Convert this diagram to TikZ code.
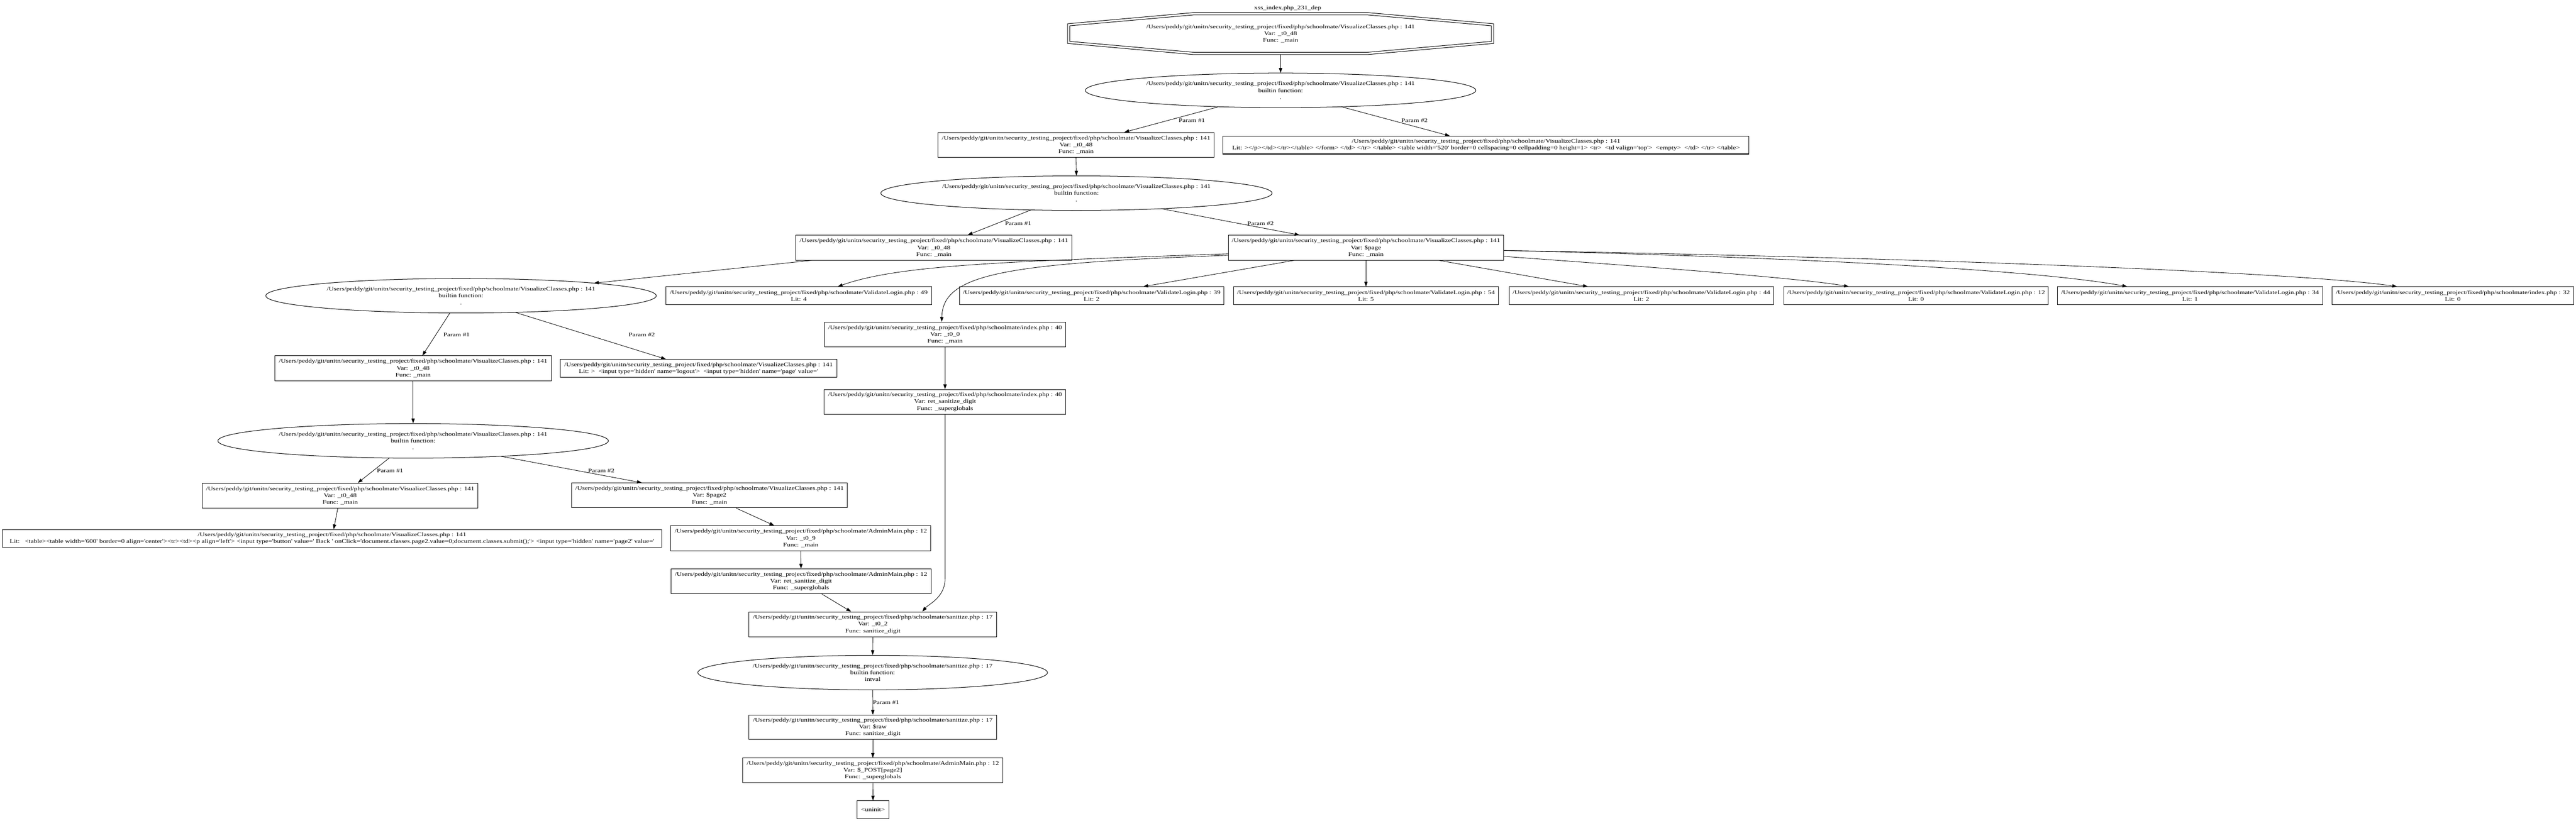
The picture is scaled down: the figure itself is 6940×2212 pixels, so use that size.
\documentclass[tikz,border=0pt]{standalone}
\usepackage{fontspec}
\newfontfamily\gvfont[FakeStretch=1.24,Ligatures=TeXOff]{Liberation Serif}
\usetikzlibrary{shapes.geometric,arrows.meta,calc}
\newcommand\pbase{/Users/peddy/git/unitn/security\_testing\_project/fixed/php/schoolmate/}
\newcommand\pvc{\pbase VisualizeClasses.php : 141}
\tikzset{
  gv/.style={font=\gvfont\fontsize{15}{18.3}\selectfont, align=center, inner sep=0pt},
  box/.style={gv, draw, rectangle, line width=1.4pt},
  ell/.style={gv, draw, ellipse, line width=1.4pt, minimum height=93pt},
  hthree/.style={minimum height=67pt},
  htwo/.style={minimum height=48pt},
  edge/.style={line width=1.2pt, -{Triangle[length=13pt,width=9pt]}},
  lbl/.style={gv},
}
\begin{document}
\begin{tikzpicture}[x=1pt,y=-1pt]
\useasboundingbox (0,0) rectangle (6940,2212);
\fill[white] (0,0) rectangle (6940,2212);

\node[gv] (title) at (3469,22) {xss\_index.php\_231\_dep};
\node[gv, minimum width=1148pt, minimum height=113pt] (n1) at (3450,90.5) {\pvc\\Var: \_t0\_48\\Func: \_main};
\draw[line width=1.4pt, shift={(n1.center)}] (-235,-56.5) -- (235,-56.5) -- (574,-26.5) -- (574,26.5) -- (235,56.5) -- (-235,56.5) -- (-574,26.5) -- (-574,-26.5) -- cycle;
\draw[line width=1.4pt, shift={(n1.center)}] (-233,-50.5) -- (233,-50.5) -- (568,-21) -- (568,21) -- (233,50.5) -- (-233,50.5) -- (-568,21) -- (-568,-21) -- cycle;

\node[ell, minimum width=1052pt] (e1) at (3450,243.5) {\pvc\\builtin function:\\.};
\node[box, hthree, minimum width=744pt] (n3) at (2899,390.5) {\pvc\\Var: \_t0\_48\\Func: \_main};
\node[box, htwo, minimum width=1417pt] (n4) at (4003.5,391) {\pvc\\Lit: ></p></td></tr></table> </form> </td> </tr> </table> <table width='520' border=0 cellspacing=0 cellpadding=0 height=1> <tr>\ \ <td valign='top'>\ \ <empty>\ \ </td> </tr> </table>};
\node[ell, minimum width=1054pt] (e2) at (2900,520.5) {\pvc\\builtin function:\\.};
\node[box, hthree, minimum width=744pt] (n6) at (2516,667.5) {\pvc\\Var: \_t0\_48\\Func: \_main};
\node[box, hthree, minimum width=742pt] (n7) at (3680,667.5) {\pvc\\Var: \$page\\Func: \_main};

\node[box, htwo, minimum width=715pt] (n8) at (2152,797) {\pbase ValidateLogin.php : 49\\Lit: 4};
\node[box, htwo, minimum width=713pt] (n9) at (2941,797) {\pbase ValidateLogin.php : 39\\Lit: 2};
\node[box, htwo, minimum width=714pt] (n10) at (3680,797) {\pbase ValidateLogin.php : 54\\Lit: 5};
\node[box, htwo, minimum width=713pt] (n13) at (4422,797) {\pbase ValidateLogin.php : 44\\Lit: 2};
\node[box, htwo, minimum width=713pt] (n14) at (5162,797) {\pbase ValidateLogin.php : 12\\Lit: 0};
\node[box, htwo, minimum width=715pt] (n15) at (5900,797) {\pbase ValidateLogin.php : 34\\Lit: 1};
\node[box, htwo, minimum width=651pt] (n16) at (6608,797) {\pbase index.php : 32\\Lit: 0};
\node[box, hthree, minimum width=650pt] (n11) at (2546,901.5) {\pbase index.php : 40\\Var: \_t0\_0\\Func: \_main};
\node[box, hthree, minimum width=651pt] (n12) at (2546,1083) {\pbase index.php : 40\\Var: ret\_sanitize\_digit\\Func: \_superglobals};

\node[ell, minimum width=1052pt] (e3) at (1242,797) {\pvc\\builtin function:\\.};
\node[box, hthree, minimum width=745pt] (n17) at (1113,992.5) {\pvc\\Var: \_t0\_48\\Func: \_main};
\node[box, htwo, minimum width=746pt] (n18) at (1882,992.5) {\pvc\\Lit: >\ \ <input type='hidden' name='logout'>\ \ <input type='hidden' name='page' value='};
\node[ell, minimum width=1052pt] (e4) at (1113,1188) {\pvc\\builtin function:\\.};
\node[box, hthree, minimum width=743pt] (n20) at (916.5,1335.5) {\pvc\\Var: \_t0\_48\\Func: \_main};
\node[box, hthree, minimum width=743pt] (n21) at (1911.5,1335) {\pvc\\Var: \$page2\\Func: \_main};
\node[box, htwo, minimum width=1777pt] (n22) at (894.5,1451) {\pvc\\Lit:\ \ \ <table><table width='600' border=0 align='center'><tr><td><p align='left'> <input type='button' value=' Back ' onClick='document.classes.page2.value=0;document.classes.submit();'> <input type='hidden' name='page2' value='};
\node[box, hthree, minimum width=701pt] (n23) at (2157.5,1450.5) {\pbase AdminMain.php : 12\\Var: \_t0\_9\\Func: \_main};
\node[box, hthree, minimum width=701pt] (n24) at (2158,1566.5) {\pbase AdminMain.php : 12\\Var: ret\_sanitize\_digit\\Func: \_superglobals};
\node[box, hthree, minimum width=667pt] (n25) at (2351.5,1682.5) {\pbase sanitize.php : 17\\Var: \_t0\_2\\Func: sanitize\_digit};
\node[ell, minimum width=942pt] (e5) at (2351,1812.5) {\pbase sanitize.php : 17\\builtin function:\\intval};
\node[box, minimum height=66pt, minimum width=667pt] (n27) at (2351.5,1960) {\pbase sanitize.php : 17\\Var: \$raw\\Func: sanitize\_digit};
\node[box, minimum height=66pt, minimum width=701pt] (n28) at (2351.5,2076) {\pbase AdminMain.php : 12\\Var: \$\_POST[page2]\\Func: \_superglobals};
\node[box, htwo, minimum width=86pt] (n29) at (2352,2182) {<uninit>};

% edges
\draw[edge] (n1.south) -- (e1.north);
\draw[edge] ($(e1.center)+(-168,44.5)$) -- ($(n3.north)+(130,0)$);
\draw[edge] ($(e1.center)+(163,44)$) -- ($(n4.north)+(-97.5,0)$);
\node[lbl] (l1) at (3211,325) {Param \#1};
\node[lbl] (l2) at (3811,325) {Param \#2};
\draw[edge] (n3.south) -- (e2.north);
\draw[edge] ($(e2.center)+(-123,45.5)$) -- ($(n6.north)+(91,0)$);
\draw[edge] ($(e2.center)+(229,42)$) -- ($(n7.north)+(-179,0)$);
\node[lbl] (l3) at (2743,603) {Param \#1};
\node[lbl] (l4) at (3396,603) {Param \#2};

\draw[edge] ($(n7.west)+(0,16.5)$) .. controls +(-609,21) and +(163,-58) .. ($(n8.north)+(105,0)$);
\draw[edge] ($(n7.west)+(0,20.5)$) .. controls +(-609,22) and +(3,-128) .. ($(n11.north)+(-9,0)$);
\draw[edge] ($(n7.south)+(-193,0)$) -- ($(n9.north)+(139,0)$);
\draw[edge] (n7.south) -- (n10.north);
\draw[edge] ($(n7.south)+(196,0)$) -- ($(n13.north)+(-144,0)$);
\draw[edge] ($(n7.east)+(0,23.5)$) .. controls +(399,29) and +(-131,-23) .. ($(n14.north)+(-181,0)$);
\draw[edge] ($(n7.east)+(0,7.5)$) .. controls +(849,20) and +(-231,-43) .. ($(n15.north)+(-169,0)$);
\draw[edge] ($(n7.east)+(0,7.5)$) .. controls +(1149,20) and +(-258,-38) .. ($(n16.north)+(-150,0)$);
\draw[edge] (n11.south) -- (n12.north);
\draw[edge] (n12.south) -- ++(0,443) .. controls +(0,50) and +(15,-19) .. ($(n25.north)+(133.5,0)$);

\draw[edge] ($(n6.south)+(-329,0)$) -- ($(e3.center)+(358,-34)$);
\draw[edge] ($(e3.center)+(-30,46.5)$) -- ($(n17.north)+(25,0)$);
\draw[edge] ($(e3.center)+(145,44.5)$) -- ($(n18.north)+(-88,0)$);
\node[lbl] (l5) at (1230,902) {Param \#1};
\node[lbl] (l6) at (1729,902) {Param \#2};
\draw[edge] (n17.south) -- (e4.north);
\draw[edge] ($(e4.center)+(-64,46)$) -- ($(n20.north)+(47.5,0)$);
\draw[edge] ($(e4.center)+(236,41.5)$) -- ($(n21.north)+(-182.5,0)$);
\node[lbl] (l7) at (1051,1269) {Param \#1};
\node[lbl] (l8) at (1620,1269) {Param \#2};
\draw[edge] ($(n20.south)+(-6.5,0)$) -- ($(n22.north)+(4.5,0)$);
\draw[edge] ($(n21.south)+(71.5,0)$) -- ($(n23.north)+(-71.5,0)$);
\draw[edge] (n23.south) -- (n24.north);
\draw[edge] ($(n24.south)+(56,0)$) -- ($(n25.north)+(-58.5,0)$);
\draw[edge] (n25.south) -- (e5.north);
\draw[edge] (e5.south) -- (n27.north);
\node[lbl] (l9) at (2387,1893) {Param \#1};
\draw[edge] (n27.south) -- (n28.north);
\draw[edge] (n28.south) -- (n29.north);
\end{tikzpicture}
\end{document}
